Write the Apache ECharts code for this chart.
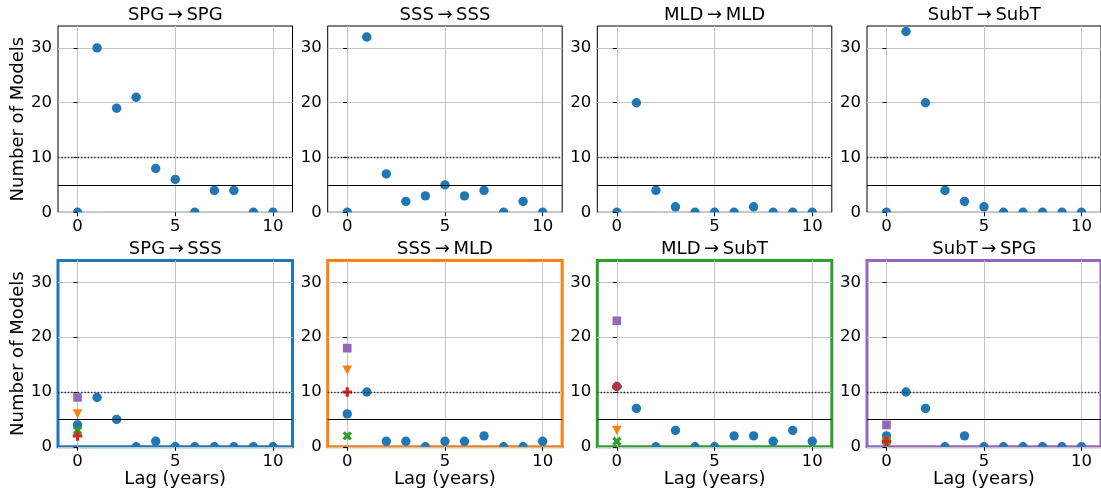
<!DOCTYPE html>
<html><head><meta charset="utf-8">
<script src="https://cdn.jsdelivr.net/npm/echarts@6/dist/echarts.min.js"></script>
<style>html,body{margin:0;padding:0;background:#fff}#c{width:1101px;height:498px}</style>
</head><body><div id="c"></div><script>
// ---------------- data ----------------
const lags = [0, 1, 2, 3, 4, 5, 6, 7, 8, 9, 10];
const xTickValues = [0, 5, 10];
const yTickValues = [0, 10, 20, 30];
const panelTitles = ['SPG\u2009\u2192\u2009SPG', 'SSS\u2009\u2192\u2009SSS', 'MLD\u2009\u2192\u2009MLD', 'SubT\u2009\u2192\u2009SubT',
                     'SPG\u2009\u2192\u2009SSS', 'SSS\u2009\u2192\u2009MLD', 'MLD\u2009\u2192\u2009SubT', 'SubT\u2009\u2192\u2009SPG'];
const spgToSpg   = [0, 30, 19, 21, 8, 6, 0, 4, 4, 0, 0];
const sssToSss   = [0, 32, 7, 2, 3, 5, 3, 4, 0, 2, 0];
const mldToMld   = [0, 20, 4, 1, 0, 0, 0, 1, 0, 0, 0];
const subtToSubt = [0, 33, 20, 4, 2, 1, 0, 0, 0, 0, 0];
const spgToSss   = [4, 9, 5, 0, 1, 0, 0, 0, 0, 0, 0];
const sssToMld   = [6, 10, 1, 1, 0, 1, 1, 2, 0, 0, 1];
const mldToSubt  = [11, 7, 0, 3, 0, 0, 2, 2, 1, 3, 1];
const subtToSpg  = [2, 10, 7, 0, 2, 0, 0, 0, 0, 0, 0];
// extra lag-0 markers in the bottom row (SPG->SSS, SSS->MLD, MLD->SubT, SubT->SPG)
const squareLag0   = [9, 18, 23, 4];
const triangleLag0 = [6, 14, 3, 1];
const crossLag0    = [3, 2, 1, 1];
const plusLag0     = [2, 10, 11, 1];
const solidRefLine = 5;
const dottedRefLine = 10;

// ---------------- styling / layout ----------------
const FONT = 'DejaVu Sans';
const C = { blue: '#1f77b4', orange: '#ff7f0e', green: '#2ca02c', red: '#d62728', purple: '#9467bd' };
const frameColors = [null, null, null, null, C.blue, C.orange, C.green, C.purple];
const panelSeries = [spgToSpg, sssToSss, mldToMld, subtToSubt, spgToSss, sssToMld, mldToSubt, subtToSpg];
const lefts = [58, 327.7, 597.3, 867];
const tops = [26, 260.5];
const W = 234.5, H = 186.3;

function polyPts(x, y, s, ang) {
  const base = [[-1,-3],[1,-3],[1,-1],[3,-1],[3,1],[1,1],[1,3],[-1,3],[-1,1],[-3,1],[-3,-1],[-1,-1]];
  const c = Math.cos(ang), sn = Math.sin(ang);
  return base.map(([a, b]) => { const u = a * s / 3, v = b * s / 3; return [x + u * c - v * sn, y + u * sn + v * c]; });
}
function markerShape(kind, x, y, color) {
  const style = { fill: color };
  switch (kind) {
    case 'circle': return { type: 'circle', shape: { cx: x, cy: y, r: 4.7 }, style };
    case 'square': return { type: 'rect', shape: { x: x - 4.3, y: y - 4.3, width: 8.6, height: 8.6 }, style };
    case 'tri': return { type: 'polygon', shape: { points: [[x - 4.8, y - 4.6], [x + 4.8, y - 4.6], [x, y + 4.6]] }, style };
    case 'plus': return { type: 'polygon', shape: { points: polyPts(x, y, 4.8, 0) }, style };
    case 'cross': return { type: 'polygon', shape: { points: polyPts(x, y, 5.0, Math.PI / 4) }, style };
  }
}
function markerSeries(idx, data, kind, color) {
  return {
    type: 'custom', xAxisIndex: idx, yAxisIndex: idx, clip: true,
    encode: { x: 0, y: 1 }, data: data,
    renderItem: (params, api) => {
      const p = api.coord([api.value(0), api.value(1)]);
      return markerShape(kind, p[0], p[1], color);
    }
  };
}

const grids = [], xAxes = [], yAxes = [], series = [], graphics = [];
for (let i = 0; i < 8; i++) {
  const row = Math.floor(i / 4), col = i % 4;
  const fc = frameColors[i];
  grids.push({ left: lefts[col], top: tops[row], width: W, height: H, show: true,
    borderColor: fc || '#000', borderWidth: fc ? 3 : 1, backgroundColor: 'transparent', containLabel: false });
  xAxes.push({ type: 'value', gridIndex: i, min: -1, max: 11,
    axisLine: { show: false },
    axisTick: { show: true, customValues: xTickValues, length: 4, lineStyle: { color: '#000', width: 1 } },
    axisLabel: { customValues: xTickValues, color: '#000', fontFamily: FONT, fontSize: 16.5, margin: 6 },
    splitLine: { show: true, lineStyle: { color: '#c4c4c4', width: 1 } },
    name: row === 1 ? 'Lag (years)' : '', nameLocation: 'middle', nameGap: 24,
    nameTextStyle: { color: '#000', fontFamily: FONT, fontSize: 18 } });
  yAxes.push({ type: 'value', gridIndex: i, min: 0, max: 34,
    axisLine: { show: false },
    axisTick: { show: true, customValues: yTickValues, length: 4, lineStyle: { color: '#000', width: 1 } },
    axisLabel: { customValues: yTickValues, color: '#000', fontFamily: FONT, fontSize: 16.5, margin: 6 },
    splitLine: { show: true, lineStyle: { color: '#c4c4c4', width: 1 } },
    name: col === 0 ? 'Number of Models' : '', nameLocation: 'middle', nameGap: 29,
    nameTextStyle: { color: '#000', fontFamily: FONT, fontSize: 18 } });
  // reference lines
  series.push({ type: 'line', xAxisIndex: i, yAxisIndex: i, data: [], silent: true,
    markLine: { silent: true, symbol: 'none', label: { show: false }, animation: false,
      data: [
        { yAxis: solidRefLine, lineStyle: { color: '#000', width: 1.1, type: 'solid' } },
        { yAxis: dottedRefLine, lineStyle: { color: '#222', width: 1.3, type: [1.3, 2] } }
      ] } });
  const vals = panelSeries[i];
  series.push(markerSeries(i, lags.map((l, k) => [l, vals[k]]), 'circle', C.blue));
  if (row === 1) {
    series.push(markerSeries(i, [[0, squareLag0[col]]], 'square', C.purple));
    series.push(markerSeries(i, [[0, triangleLag0[col]]], 'tri', C.orange));
    series.push(markerSeries(i, [[0, crossLag0[col]]], 'cross', C.green));
    series.push(markerSeries(i, [[0, plusLag0[col]]], 'plus', C.red));
  }
  graphics.push({ type: 'text', x: lefts[col] + W / 2, y: tops[row] - 11,
    style: { text: panelTitles[i], fill: '#000', font: '18px "DejaVu Sans"', textAlign: 'center', textVerticalAlign: 'middle' } });
}

const chart = echarts.init(document.getElementById('c'), null, { renderer: 'canvas' });
chart.setOption({
  animation: false,
  backgroundColor: '#fff',
  grid: grids, xAxis: xAxes, yAxis: yAxes, series: series, graphic: graphics
});
</script></body></html>
